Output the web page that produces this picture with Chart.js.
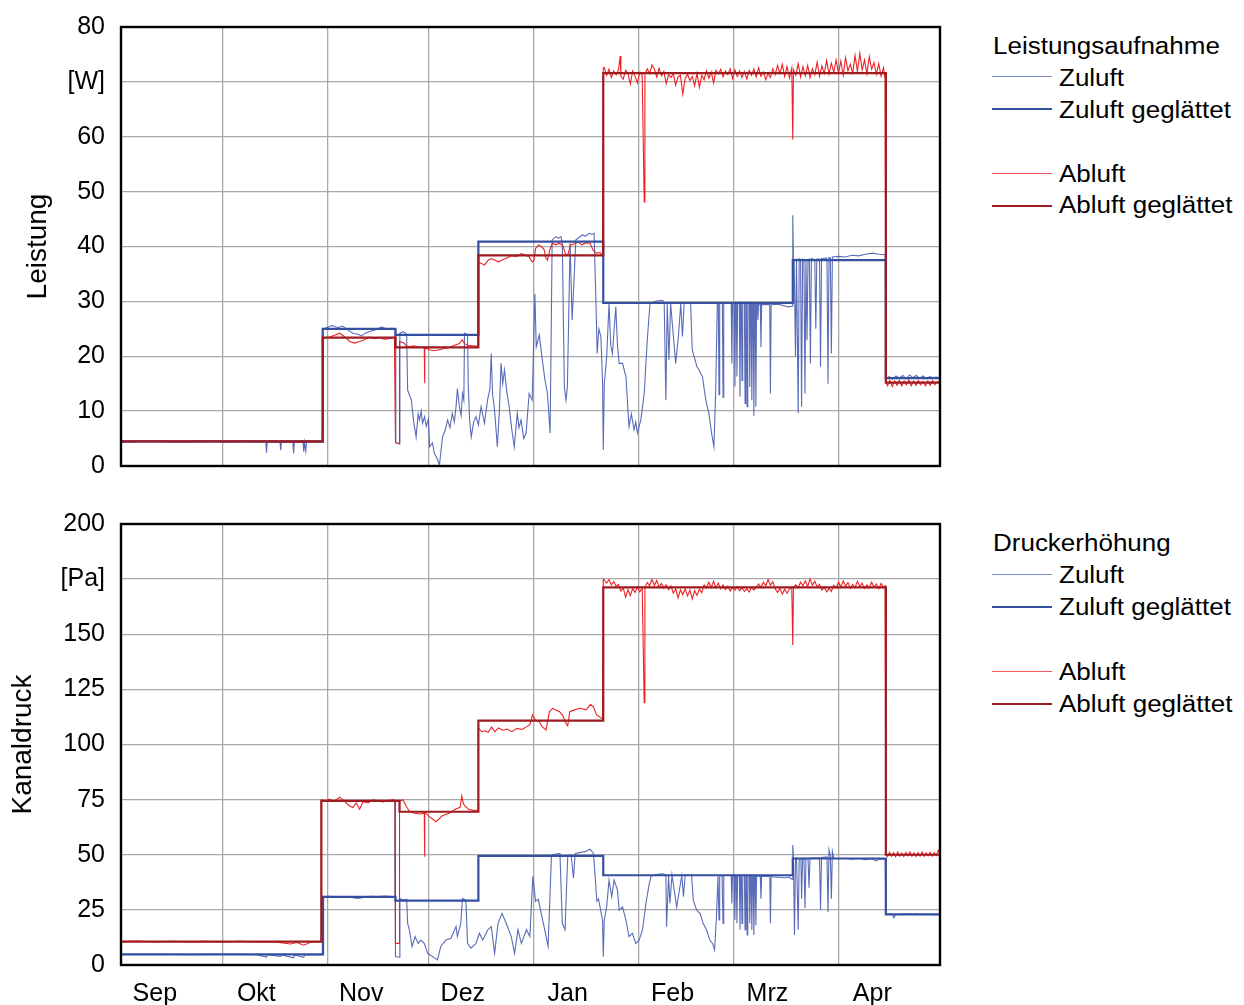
<!DOCTYPE html>
<html><head><meta charset="utf-8">
<script src="https://cdn.jsdelivr.net/npm/chart.js@4.4.1/dist/chart.umd.min.js"></script>
<style>
html,body{margin:0;padding:0;background:#fff;width:1244px;height:1005px;overflow:hidden;position:relative;font-family:'Liberation Sans',Arial,sans-serif;}
canvas{position:absolute;left:0;display:block;}
.lt,.tx{position:absolute;left:993px;font-size:23px;line-height:1;color:#000;white-space:nowrap;transform-origin:left center;transform:translateY(-50%) scaleX(1.13);}
.tx{left:1059px;}
.ln{position:absolute;left:992px;width:60px;}
</style></head>
<body>
<canvas id="c1" width="945" height="484" style="top:0px"></canvas>
<canvas id="c2" width="945" height="505" style="top:500px"></canvas>

<div class="lt" style="top:45.5px">Leistungsaufnahme</div>
<div class="ln" style="top:76px;height:1px;background:rgb(125,140,205)"></div>
<div class="tx" style="top:77.5px">Zuluft</div>
<div class="ln" style="top:108px;height:2px;background:rgb(52,80,160)"></div>
<div class="tx" style="top:109.5px">Zuluft geglättet</div>
<div class="ln" style="top:173px;height:1px;background:rgb(240,90,90)"></div>
<div class="tx" style="top:174px">Abluft</div>
<div class="ln" style="top:205px;height:2px;background:rgb(158,27,32)"></div>
<div class="tx" style="top:205px">Abluft geglättet</div>

<div class="lt" style="top:543px">Druckerhöhung</div>
<div class="ln" style="top:574px;height:1px;background:rgb(125,140,205)"></div>
<div class="tx" style="top:575px">Zuluft</div>
<div class="ln" style="top:606px;height:2px;background:rgb(52,80,160)"></div>
<div class="tx" style="top:607px">Zuluft geglättet</div>
<div class="ln" style="top:671px;height:1px;background:rgb(240,90,90)"></div>
<div class="tx" style="top:672px">Abluft</div>
<div class="ln" style="top:703px;height:2px;background:rgb(158,27,32)"></div>
<div class="tx" style="top:704px">Abluft geglättet</div>

<script>
// ---- categories / ticks (x = days since 1 Sep) ----
const monthLabels = ['Sep','Okt','Nov','Dez','Jan','Feb','Mrz','Apr'];
const monthStartDays = [0,30,61,91,122,153,181,212,242];
const monthLabelDays = [10,40,71,101,132,163,191,222];
const leistTickLabels = ['0','10','20','30','40','50','60','[W]','80'];
const druckTickLabels = ['0','25','50','75','100','125','150','[Pa]','200'];

// ---- Leistung: Zuluft (raw) ----
const leistZuDays = [0,10,20,30,40,42.8,43,43.2,47,47.2,47.4,50.8,51,51.2,53.8,54,54.2,54.6,54.8,59.5,
59.7,61,62.5,64,65.5,67,68.5,70,71,72.5,74,75.5,77,78.5,80,81,81.2,82.2,82.4,83.5,84.4,84.7,85.8,86.5,87.2,87.8,88.2,88.7,89.1,89.7,90.2,90.8,91.2,92,92.6,93.3,94.1,95,95.8,96.5,97.2,97.9,98.5,99,99.4,100,100.5,100.9,101.3,101.5,102.4,102.6,103,103.5,104.2,104.9,105.6,106.4,107,107.4,108.3,109,109.4,109.8,110.3,111.2,111.8,112.3,112.8,113.3,114,114.7,115.5,116.2,117.1,117.6,118.2,119,119.7,120.6,121.5,122.3,122.7,123.6,124.5,125.2,126,126.8,127.4,128.5,129.3,130,130.4,131,131.5,131.9,132.7,133.3,134.4,135.3,136.3,137.3,138.3,139.1,139.8,140.3,140.7,141.2,141.8,142.3,142.5,142.8,143.5,144.2,144.7,145.2,146.2,146.7,147.2,148.2,149.2,150.1,150.8,151.6,152.1,152.6,153.6,154.6,155.5,156.3,158,160,160.5,161,161.4,161.9,162.4,163.9,164.7,165.4,165.9,166.4,168.3,168.8,170.2,170.8,171.8,172.8,173.7,174.5,175.2,175.7,176.2,
176.5,176.7,176.9,177.7,177.9,178.1,180.3,180.5,180.7,181.2,181.4,181.6,181.8,182,182.2,182.7,182.9,183.1,183.3,183.5,183.7,184.2,184.4,184.6,184.8,185,185.2,185.6,185.8,186,186.2,186.4,186.6,186.8,187,187.2,187.4,187.6,187.8,188,188.2,188.4,188.9,189.1,189.3,191.7,191.9,192.1,194,196,197,198.3,198.5,198.7,
198.9,199.3,199.6,200.1,200.4,200.8,201.1,201.4,201.8,202.1,202.4,202.7,203,203.4,203.7,204,205,205.3,205.6,206.4,206.7,207,208.6,208.9,209.2,209.6,209.9,210.2,212,214,216,218,220,222,224,225.8,226,227,228,229,230,231,232,233,234,235,236,237,238,239,240,241,242];
const leistZuVals = [4.4,4.5,4.4,4.5,4.4,4.4,2.4,4.4,4.3,2.9,4.3,4.3,2.3,4.3,4.4,2.6,4.3,2.7,4.4,4.4,
25.0,25.3,25.6,25.2,25.5,24.8,24.2,24.0,23.7,24.3,24.6,24.9,25.3,25.0,25.1,24.8,4.2,4.0,24.2,24.5,24.0,13.8,12.0,8.0,5.3,9.5,8.4,10.0,7.8,9.0,7.2,8.5,3.5,4.2,2.3,1.5,0.2,5.3,6.5,8.4,7.0,9.6,8.0,10.8,14.1,10.8,9.2,13.2,12.0,24.2,23.9,15.0,8.4,5.3,8.0,9.0,7.5,10.8,9.0,7.8,12.0,14.0,20.5,13.0,10.8,3.5,10.0,18.7,15.0,17.5,13.5,10.8,6.5,3.5,9.6,7.0,8.4,5.0,6.0,13.2,12.0,31.4,21.7,23.9,19.3,16.0,13.2,6.0,41.2,41.8,41.5,41.8,40.6,14.4,12.0,14.4,40.6,26.6,41.2,41.6,42.1,41.9,42.4,42.2,42.4,30.8,20.5,25.0,23.6,15.0,2.9,15.0,19.8,29.6,22.0,20.5,29.0,22.0,18.7,18.7,16.3,7.2,9.5,6.6,8.0,6.0,8.4,13.2,22.9,29.6,30.0,30.2,29.9,12.0,29.6,19.3,29.6,18.7,23.6,29.6,23.6,29.6,29.8,21.1,18.1,17.5,16.3,12.0,9.6,6.0,3.5,13.2,29.6,
29.7,13.0,29.7,29.7,12.5,29.8,29.8,18.7,29.8,29.8,14.5,29.8,29.6,16.3,29.8,29.8,12.6,29.9,29.8,15.6,29.8,29.8,11.4,29.7,29.8,10.8,29.8,29.8,14.4,29.8,29.6,12.0,29.7,29.7,9.1,29.6,29.7,10.8,29.6,29.6,26.6,29.5,29.5,21.7,29.4,29.4,13.2,29.4,29.5,29.2,29.0,29.1,45.7,37.5,
37.6,20.0,37.8,9.6,37.8,37.6,10.8,37.7,37.5,13.2,37.6,22.9,37.6,37.7,18.7,37.8,37.6,25.0,37.7,37.7,18.1,37.8,37.9,15.0,38.0,38.0,20.5,38.1,38.2,38.1,38.4,38.3,38.6,38.8,38.6,38.5,16.0,16.3,15.8,16.4,16.0,16.5,15.9,16.6,16.1,16.5,16.0,16.4,15.9,16.3,16.1,16.2,16.0];

// ---- Leistung: Zuluft geglättet ----
const leistZuGlDays = [0,59.6,81.1,105.6,142.5,198.5,226,242];
const leistZuGlVals = [4.5,25.0,23.9,40.9,29.7,37.5,16.0,16.0];

// ---- Leistung: Abluft (raw) ----
const leistAbDays = [0,8,16,24,32,40,48,52,56,59.4,
59.6,61.7,63.5,64.6,66,67.6,69,70.5,71.8,73.3,74.8,76.3,77.8,79.3,80.8,81.1,82.2,82.3,83.6,84.7,86.5,88.5,89.6,89.7,89.8,91,92.6,94,95.5,97,98.5,100,100.8,101.5,102.5,104,105.4,
105.6,106.5,107.4,108.5,109.4,110.5,111.5,112.8,114,115.5,117,118.3,119.6,120.6,121.5,122,122.5,123.3,124.2,125,125.5,126,126.8,127.5,128.5,129.5,130.5,131.3,132,132.8,134,135,136.2,137.5,138.6,139.5,140.5,141.5,142.3,
142.5,142.8,143.5,144.2,144.9,145.6,146.3,147,147.5,147.7,148.4,149.1,149.8,150.5,151.2,151.9,152.6,153.3,154,154.6,154.8,155.5,156.2,156.9,157.6,158.3,159,159.7,160.4,161.1,161.8,162.5,163.2,163.9,164.6,165.3,166,166.7,167.4,168.1,168.8,169.5,170.2,170.9,171.6,172.3,173,173.7,174.4,175.1,175.8,176.5,177.2,177.9,178.6,179.3,180,180.7,181.4,182.1,182.8,183.5,184.2,184.9,185.6,186.3,187,187.7,188.4,189.1,189.8,190.5,191.2,191.9,192.6,193.3,194,194.7,195.4,196.1,196.8,197.5,198.2,198.5,198.7,199.4,200.1,200.8,201.5,202.2,202.9,203.6,204.3,205,205.7,206.4,207.1,207.8,208.5,209.2,209.9,210.6,211.3,212,212.7,213.4,214.1,214.8,215.5,216.2,216.9,217.6,218.3,219,219.7,220.4,221.1,221.8,222.5,223.2,223.9,224.6,225.3,225.8,
226,226.5,227.2,227.9,228.6,229.3,230,230.7,231.4,232.1,232.8,233.5,234.2,234.9,235.6,236.3,237,237.7,238.4,239.1,239.8,240.5,241.2,242];
const leistAbVals = [4.4,4.5,4.4,4.5,4.4,4.5,4.4,4.3,4.4,4.4,
23.3,23.5,23.9,24.2,23.6,22.7,22.4,22.7,23.0,23.5,23.2,23.4,23.1,23.2,23.5,4.3,4.1,22.7,22.4,21.7,21.9,21.6,21.7,15.1,21.6,21.2,21.0,21.2,21.4,21.6,22.0,22.3,23.0,22.3,22.0,21.9,21.8,
37.2,36.9,36.6,37.5,37.8,37.5,37.2,37.6,37.9,38.3,38.2,38.7,38.4,38.1,37.2,37.4,39.6,40.3,40.0,39.5,38.0,37.5,39.6,40.6,40.3,40.6,40.2,38.7,38.4,40.3,40.5,40.8,40.3,40.7,40.6,39.3,38.8,38.9,38.4,
72.5,72.6,71.2,72.3,70.8,72.0,71.3,72.2,74.7,71.0,70.5,72.1,71.5,69.6,72.0,71.0,69.8,71.8,71.2,48.1,71.4,72.4,71.5,73.1,72.3,70.9,72.5,71.1,71.9,69.7,71.3,70.8,71.5,69.4,70.9,71.2,67.8,70.6,71.4,70.2,71.0,69.3,71.6,69.0,71.2,70.4,72.0,70.7,71.8,69.8,72.1,71.4,72.3,70.9,72.0,71.3,72.4,70.6,72.2,71.0,72.0,70.8,71.9,70.5,72.1,71.2,72.3,70.9,72.6,71.0,71.8,70.4,71.5,70.8,72.4,71.3,73.0,71.5,73.2,71.0,72.8,70.7,72.5,59.5,72.2,71.2,73.3,70.9,72.8,71.1,73.0,70.8,72.4,71.3,73.6,71.0,72.9,71.5,73.9,71.4,73.4,71.8,74.0,71.6,73.8,71.2,74.4,72.0,73.2,71.6,74.8,71.9,75.2,72.2,74.0,71.5,74.6,72.3,73.5,71.4,73.3,71.0,72.6,70.5,
15.3,14.6,15.6,14.5,15.5,14.7,15.6,14.6,15.5,14.8,15.7,14.6,15.5,14.7,15.6,14.8,15.4,14.6,15.5,14.7,15.6,14.8,15.4,15.0];

// ---- Leistung: Abluft geglättet ----
const leistAbGlDays = [0,59.6,81.1,105.6,142.5,226,242];
const leistAbGlVals = [4.5,23.4,21.6,38.4,71.6,15.2,15.2];

// ---- Kanaldruck: Zuluft (raw) ----
const druckZuDays = [0,10,20,30,40,43,43.2,47.2,47.4,51,51.2,54,54.2,59.5,
59.7,62,64,66,68,70,72,74,76,78,80,80.8,80.9,81.1,82.2,82.4,83.5,84.4,84.7,85.2,86,86.9,87.8,88.6,89.6,90.6,92.1,93.5,94.5,96,97.5,99,99.4,100.4,100.9,101.9,102.4,103.4,104.9,105.9,106.9,108.4,109.4,110.4,111.4,112.6,113.8,115.3,116.3,117.3,118.3,119.8,120.8,121.7,122.5,123.3,124.8,126.2,127.2,129.7,130.4,131.2,132,133,133.7,134.2,137.1,138.6,139.6,140.1,140.6,141.1,141.6,142.3,142.5,142.8,143.5,144.2,145,145.7,146.7,147.2,148.2,149.2,150.1,151.1,152.1,153.1,154.1,155.1,156.1,156.6,158,160,161,161.2,161.8,162.2,162.8,164.2,165,165.7,166.2,166.7,168.6,169.1,170.1,171.1,172,173,174,174.8,175.4,175.9,176.4,
176.7,176.9,177.6,177.9,178.1,180.3,180.5,180.7,181.2,181.4,181.6,181.8,182,182.2,182.7,182.9,183.1,183.3,183.5,183.7,184.2,184.4,184.6,184.8,185,185.2,185.6,185.8,186,186.2,186.4,186.6,186.8,187,187.2,187.4,187.6,187.8,188.9,189.1,189.3,191.7,191.9,192.1,194,196,197.5,198.3,198.5,198.7,
199,199.3,199.6,200.1,200.4,200.9,201.1,201.4,201.8,202.1,202.4,203,203.3,203.6,206.4,206.7,207,208.6,208.9,209.2,209.6,209.9,210.2,210.6,212,214,216,218,220,222,223,224,225.8,226,227,228,228.4,229,230,231,232,233,234,235,236,237,238,239,240,241,242];
const druckZuVals = [4.8,4.9,4.7,4.8,4.7,3.6,4.7,3.9,4.6,3.3,4.6,3.5,4.6,4.7,
31.0,31.2,30.8,31.1,30.6,30.2,30.8,31.2,31.0,31.3,31.0,31.2,74.5,3.8,3.5,30.1,29.5,29.8,18.9,16.0,8.4,12.9,9.8,11.3,9.8,5.3,3.8,2.3,8.4,11.3,12.1,17.4,13.0,18.9,30.1,29.4,9.8,7.6,9.8,14.4,11.3,16.0,17.4,5.3,18.9,23.4,18.9,13.0,5.3,16.0,9.8,16.0,13.0,40.2,28.9,29.8,18.9,8.4,49.9,50.6,18.9,16.0,49.3,50.0,39.5,50.6,51.4,52.5,50.6,40.2,28.9,30.0,25.9,20.0,3.8,20.4,26.3,38.5,31.0,38.5,34.0,24.9,26.3,20.4,12.9,14.4,9.8,11.3,16.0,27.9,37.0,40.1,41.0,41.4,41.0,17.4,40.5,27.9,40.8,26.3,34.0,40.5,31.0,40.8,40.8,29.4,24.9,23.4,18.9,16.0,11.3,9.8,6.8,20.4,40.1,
20.4,40.5,40.5,18.9,40.6,40.6,27.9,40.7,40.7,20.4,40.8,40.6,18.9,40.8,40.7,16.0,40.8,40.6,18.9,40.7,40.7,16.0,40.6,40.8,13.6,40.7,40.6,18.9,40.7,40.5,16.0,40.6,40.4,13.6,40.5,40.6,18.0,40.4,40.3,30.0,40.3,40.2,18.9,40.0,39.8,39.6,39.8,38.8,54.4,48.3,
13.6,48.0,48.5,16.0,48.3,48.4,30.0,48.2,48.5,25.9,48.3,48.4,35.0,48.5,48.6,25.0,48.8,49.0,24.0,52.2,49.5,30.1,51.5,48.5,48.2,48.4,48.0,48.3,47.8,48.2,47.2,48.0,48.1,23.0,23.2,22.8,21.4,23.1,22.8,23.2,23.0,23.3,22.9,23.2,22.8,23.1,22.9,23.0,22.7,23.0,22.4];

// ---- Kanaldruck: Zuluft geglättet ----
const druckZuGlDays = [0,59.7,81.1,105.6,142.5,198.5,226,242];
const druckZuGlVals = [4.8,30.9,29.2,49.5,40.7,48.3,23.0,23.0];

// ---- Kanaldruck: Abluft (raw) ----
const druckAbDays = [0,5,10,15,20,25,30,35,40,45,50,52,54,56,58,59.1,
59.2,60.5,61.5,63,64.6,66,67.6,68.5,69.5,70.5,71.5,73,74.5,76,77.5,79,80.5,81,81.1,82.2,82.3,83.3,84.3,85.3,86.7,88.5,89.6,89.7,89.8,91.2,93.1,95,97,98.8,100.2,100.7,101.2,101.7,102.7,104.5,105.5,
105.6,106.6,107.5,108.5,109.5,110.5,111.5,112.8,114,115.5,117,118.5,119.8,120.8,121.6,122.5,123.5,124.5,125.6,126.6,127.6,128.6,129.6,130.6,131.3,132,132.6,134,135.5,137.4,138.8,139.6,140.5,141.5,142.3,
142.5,142.8,143.5,144.2,144.9,145.6,146.3,147,147.7,148.4,149.1,149.8,150.5,151.2,151.9,152.6,153.3,154,154.6,154.8,155.5,156.2,156.9,157.6,158.3,159,159.7,160.4,161.1,161.8,162.5,163.2,163.9,164.6,165.3,166,166.7,167.4,168.1,168.8,169.5,170.2,170.9,171.6,172.3,173,173.7,174.4,175.1,175.8,176.5,177.2,177.9,178.6,179.3,180,180.7,181.4,182.1,182.8,183.5,184.2,184.9,185.6,186.3,187,187.7,188.4,189.1,189.8,190.5,191.2,191.9,192.6,193.3,194,194.7,195.4,196.1,196.8,197.5,198.2,198.5,198.7,199.4,200.1,200.8,201.5,202.2,202.9,203.6,204.3,205,205.7,206.4,207.1,207.8,208.5,209.2,209.9,210.6,211.3,212,212.7,213.4,214.1,214.8,215.5,216.2,216.9,217.6,218.3,219,219.7,220.4,221.1,221.8,222.5,223.2,223.9,224.6,225.3,225.8,
226,226.5,227.1,227.7,228.3,228.9,229.5,230.1,230.7,231.3,231.9,232.5,233.1,233.7,234.3,234.9,235.5,236.1,236.7,237.3,237.9,238.5,239.1,239.7,240.3,240.9,241.5,242];
const druckAbVals = [10.6,10.9,10.4,10.8,10.5,10.7,10.4,10.8,10.5,10.6,9.5,10.2,9.0,10.3,10.5,10.6,
75.0,74.5,75.2,74.3,76.1,74.2,72.1,71.4,73.5,70.6,74.0,73.5,75.0,74.3,74.0,74.6,75.0,74.5,9.8,9.8,74.3,75.0,72.0,69.5,68.8,68.5,69.0,49.1,69.2,67.2,65.0,67.8,68.8,70.6,71.5,76.6,73.0,72.1,70.6,70.0,70.5,
107.3,105.8,106.2,105.5,107.9,105.8,107.5,106.5,107.0,105.8,107.3,106.8,108.0,109.0,113.4,111.0,110.5,108.0,106.6,114.9,116.4,115.5,114.9,113.0,110.0,108.5,114.9,115.7,116.4,115.7,118.2,117.0,113.5,112.5,111.5,
175.0,174.6,173.2,174.8,172.4,173.9,171.8,172.6,169.6,171.0,166.8,170.2,167.5,170.8,168.9,171.5,169.2,171.0,119.0,171.4,173.5,172.0,174.8,172.2,174.4,171.6,173.0,170.8,172.4,170.2,171.9,168.6,170.5,166.5,170.2,168.0,170.6,167.4,170.0,166.0,169.8,167.6,170.4,168.8,172.4,171.0,173.6,171.2,174.0,171.0,173.2,170.6,172.4,170.2,171.8,169.6,171.2,170.0,171.6,169.8,171.0,169.4,170.6,169.2,171.2,170.0,171.4,172.8,171.2,173.6,172.0,174.8,172.2,173.8,170.6,169.0,170.8,168.2,170.4,168.6,170.6,171.2,145.1,171.4,172.4,171.0,173.6,172.0,174.2,171.6,175.2,172.2,174.0,171.4,172.6,170.0,171.4,169.2,170.8,169.4,172.2,171.0,173.6,171.4,174.2,171.8,173.4,170.8,172.6,171.2,174.0,171.6,173.2,170.8,172.4,171.0,173.6,171.4,172.8,170.6,173.0,171.2,172.0,
50.0,49.2,51.0,49.3,50.9,49.1,51.2,49.4,50.8,49.2,51.1,49.5,51.3,49.3,50.9,49.2,51.0,49.4,51.2,49.3,50.8,49.5,51.1,49.4,50.9,49.6,52.0,50.0];

// ---- Kanaldruck: Abluft geglättet ----
const druckAbGlDays = [0,59.2,82.3,105.6,142.5,226,242];
const druckAbGlVals = [10.6,74.4,69.5,110.8,171.3,50.0,50.0];

// ---- styles ----
const C_ZU = 'rgba(72,92,176,0.9)', C_ZUGL = 'rgb(52,80,160)';
const C_AB = 'rgb(238,32,36)', C_ABGL = 'rgb(158,27,32)';
const GRID = '#a9a9a9';
const FONT = "'Liberation Sans', Arial, sans-serif";

const pts = (d, v) => d.map((x, i) => ({x, y: v[i]}));
const ds = (label, d, v, color, w, stepped) => ({label, data: pts(d, v), borderColor: color, borderWidth: w,
  pointRadius: 0, fill: false, tension: 0, stepped: !!stepped, xAxisID: 'x'});

const framePlugin = {id: 'frame', afterDatasetsDraw(chart) {
  const {ctx, chartArea: a} = chart; ctx.save(); ctx.strokeStyle = '#000'; ctx.lineWidth = 2.4;
  ctx.strokeRect(a.left, a.top, a.right - a.left, a.bottom - a.top); ctx.restore(); }};

function makeChart(id, datasets, yMax, yStep, tickLabels, title, titlePad, withLabels) {
  const scales = {
    x: {type: 'linear', min: 0, max: 242, position: 'bottom',
      afterBuildTicks: s => { s.ticks = monthStartDays.map(v => ({value: v})); },
      afterFit: s => { s.height = withLabels ? 0 : 18; },
      ticks: {display: false}, grid: {color: GRID, lineWidth: 1.3, drawTicks: false}, border: {display: false}},
    y: {type: 'linear', min: 0, max: yMax,
      afterBuildTicks: s => { s.ticks = tickLabels.map((t, i) => ({value: i * yStep})); },
      afterFit: s => { s.width = 121; },
      ticks: {autoSkip: false, padding: 0, color: '#000', font: {family: FONT, size: 25},
        callback: (v, i) => tickLabels[i]},
      grid: {color: GRID, lineWidth: 1.3, drawTicks: true, tickLength: 16, tickColor: 'rgba(0,0,0,0)'},
      border: {display: false},
      title: {display: true, text: title, color: '#000', font: {family: FONT, size: 28}, padding: {top: titlePad, bottom: 0}}}
  };
  if (withLabels) {
    scales.x2 = {type: 'linear', min: 0, max: 242, position: 'bottom',
      afterBuildTicks: s => { s.ticks = monthLabelDays.map(v => ({value: v})); },
      afterFit: s => { s.height = 40; },
      ticks: {autoSkip: false, maxRotation: 0, padding: 14, color: '#000', font: {family: FONT, size: 25},
        callback: (v, i) => monthLabels[i]},
      grid: {display: false, drawTicks: false}, border: {display: false}};
  }
  return new Chart(document.getElementById(id), {
    type: 'line', data: {datasets},
    options: {responsive: false, animation: false, devicePixelRatio: 1, events: [],
      layout: {padding: {top: withLabels ? 24 : 27, right: 5, left: 0, bottom: 0}},
      plugins: {legend: {display: false}, tooltip: {enabled: false}},
      scales},
    plugins: [framePlugin]
  });
}

makeChart('c1', [
  ds('Abluft geglättet', leistAbGlDays, leistAbGlVals, C_ABGL, 2.2, true),
  ds('Zuluft geglättet', leistZuGlDays, leistZuGlVals, C_ZUGL, 2.2, true),
  ds('Abluft', leistAbDays, leistAbVals, C_AB, 1.1),
  ds('Zuluft', leistZuDays, leistZuVals, C_ZU, 1.1)
], 80, 10, leistTickLabels, 'Leistung', 21, false);

makeChart('c2', [
  ds('Abluft geglättet', druckAbGlDays, druckAbGlVals, C_ABGL, 2.2, true),
  ds('Zuluft geglättet', druckZuGlDays, druckZuGlVals, C_ZUGL, 2.2, true),
  ds('Abluft', druckAbDays, druckAbVals, C_AB, 1.1),
  ds('Zuluft', druckZuDays, druckZuVals, C_ZU, 1.1)
], 200, 25, druckTickLabels, 'Kanaldruck', 6, true);
</script>
</body></html>
